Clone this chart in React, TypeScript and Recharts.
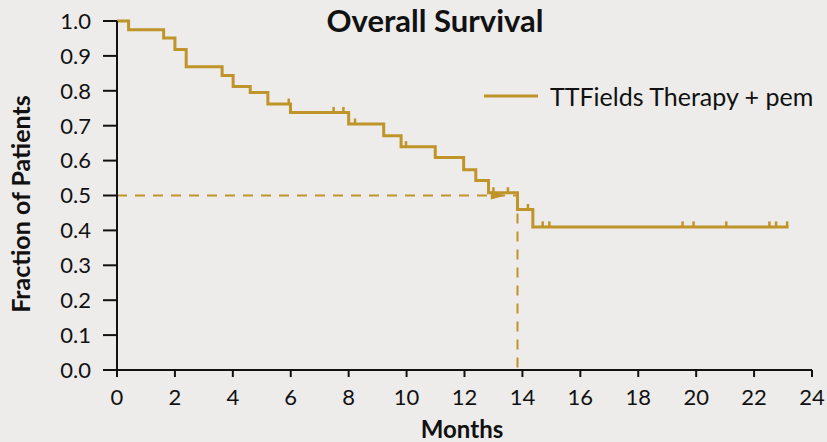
import React from 'react';
import {
  ComposedChart,
  Line,
  Scatter,
  XAxis,
  YAxis,
  ReferenceLine,
  Legend,
} from 'recharts';

// Kaplan-Meier steps: time (months) and survival fraction
const kmTimes = [0, 0.4, 1.61, 2.0, 2.39, 3.63, 4.01, 4.6, 5.21, 5.99, 8.0, 9.21, 9.81, 10.99, 11.97, 12.39, 12.83, 13.83, 14.36, 23.19];
const kmSurv = [1.0, 0.975, 0.951, 0.918, 0.869, 0.844, 0.812, 0.795, 0.762, 0.738, 0.705, 0.671, 0.64, 0.609, 0.574, 0.543, 0.508, 0.46, 0.41, 0.41];

// Censored observations
const censorTimes = [5.93, 7.48, 7.82, 8.22, 9.98, 13.0, 13.5, 14.19, 14.7, 14.93, 19.53, 19.91, 21.04, 22.53, 22.76, 23.14];
const censorSurv = [0.762, 0.738, 0.738, 0.705, 0.64, 0.508, 0.508, 0.46, 0.41, 0.41, 0.41, 0.41, 0.41, 0.41, 0.41, 0.41];

// Median survival
const medianTime = 13.83;
const medianSurv = 0.5;
const arrowPoint = [{ t: 13.22, s: 0.5 }];

const xTicks = [0, 2, 4, 6, 8, 10, 12, 14, 16, 18, 20, 22, 24];
const yTicks = [0, 0.1, 0.2, 0.3, 0.4, 0.5, 0.6, 0.7, 0.8, 0.9, 1.0];

const seriesName = 'TTFields Therapy + pem';
const title = 'Overall Survival';

const GOLD = '#BF9428';
const BG = '#EDECEA';
const FONT = 'Lato, "Open Sans", sans-serif';

const kmData = kmTimes.map((t, i) => ({ t, s: kmSurv[i] }));
const censorData = censorTimes.map((t, i) => ({ t, s: censorSurv[i] }));

const CensorTick = (props: any) => {
  const { cx, cy } = props;
  if (cx == null || cy == null) return null;
  return <line x1={cx} x2={cx} y1={cy} y2={cy - 5.5} stroke={GOLD} strokeWidth={2.5} />;
};

const ArrowHead = (props: any) => {
  const { cx, cy } = props;
  if (cx == null || cy == null) return null;
  return (
    <polygon
      points={`${cx - 9},${cy - 4} ${cx + 6},${cy} ${cx - 9},${cy + 4}`}
      fill={GOLD}
    />
  );
};

const LegendContent = () => (
  <div style={{ display: 'flex', alignItems: 'center', fontFamily: FONT }}>
    <svg width={56} height={10} style={{ display: 'block' }}>
      <line x1={0} x2={54} y1={5} y2={5} stroke={GOLD} strokeWidth={3} />
    </svg>
    <span style={{ marginLeft: 10, fontSize: 25, color: '#111', whiteSpace: 'nowrap' }}>{seriesName}</span>
  </div>
);

export default function App() {
  return (
    <div
      style={{
        position: 'absolute',
        left: 0,
        top: 0,
        width: 827,
        height: 442,
        background: BG,
        overflow: 'hidden',
      }}
    >
      <div
        style={{
          position: 'absolute',
          left: 435,
          top: 1,
          transform: 'translateX(-50%)',
          fontFamily: FONT,
          fontWeight: 700,
          fontSize: 31,
          color: '#111',
          whiteSpace: 'nowrap',
          zIndex: 2,
        }}
      >
        {title}
      </div>
      <ComposedChart
        width={827}
        height={442}
        margin={{ top: 21, right: 15, bottom: 0, left: 0 }}
      >
        <XAxis
          dataKey="t"
          type="number"
          domain={[0, 24]}
          ticks={xTicks}
          interval={0}
          tickSize={7}
          tickMargin={12}
          height={72}
          stroke="#111"
          strokeWidth={2}
          tick={{ fill: '#111', fontSize: 22, fontFamily: FONT }}
          tickLine={{ stroke: '#111', strokeWidth: 2 }}
          label={{
            content: () => (
              <text
                x={462}
                y={438}
                textAnchor="middle"
                fontFamily={FONT}
                fontWeight={700}
                fontSize={24}
                fill="#111"
              >
                Months
              </text>
            ),
          }}
        />
        <YAxis
          type="number"
          domain={[0, 1]}
          ticks={yTicks}
          interval={0}
          width={117}
          tickSize={14}
          tickMargin={12}
          stroke="#111"
          strokeWidth={2}
          tickFormatter={(v: number) => v.toFixed(1)}
          tick={{ fill: '#111', fontSize: 22, fontFamily: FONT }}
          tickLine={{ stroke: '#111', strokeWidth: 2 }}
          label={{
            content: () => (
              <text
                x={30}
                y={204}
                transform="rotate(-90, 30, 204)"
                textAnchor="middle"
                fontFamily={FONT}
                fontWeight={700}
                fontSize={25}
                fill="#111"
              >
                Fraction of Patients
              </text>
            ),
          }}
        />
        <ReferenceLine
          segment={[
            { x: 0, y: medianSurv },
            { x: medianTime, y: medianSurv },
          ]}
          stroke={GOLD}
          strokeWidth={2}
          strokeDasharray="10 8"
        />
        <ReferenceLine
          segment={[
            { x: medianTime, y: medianSurv },
            { x: medianTime, y: 0 },
          ]}
          stroke={GOLD}
          strokeWidth={2}
          strokeDasharray="10 8"
        />
        <Scatter
          data={arrowPoint}
          dataKey="s"
          shape={ArrowHead}
          isAnimationActive={false}
          legendType="none"
        />
        <Line
          data={kmData}
          dataKey="s"
          name={seriesName}
          type="stepAfter"
          stroke={GOLD}
          strokeWidth={3}
          dot={false}
          activeDot={false}
          isAnimationActive={false}
        />
        <Scatter
          data={censorData}
          dataKey="s"
          shape={CensorTick}
          isAnimationActive={false}
          legendType="none"
        />
        <Legend
          layout="horizontal"
          verticalAlign="middle"
          align="center"
          content={LegendContent}
          wrapperStyle={{ top: 81, left: 484, width: 'auto', height: 'auto' }}
        />
      </ComposedChart>
    </div>
  );
}
